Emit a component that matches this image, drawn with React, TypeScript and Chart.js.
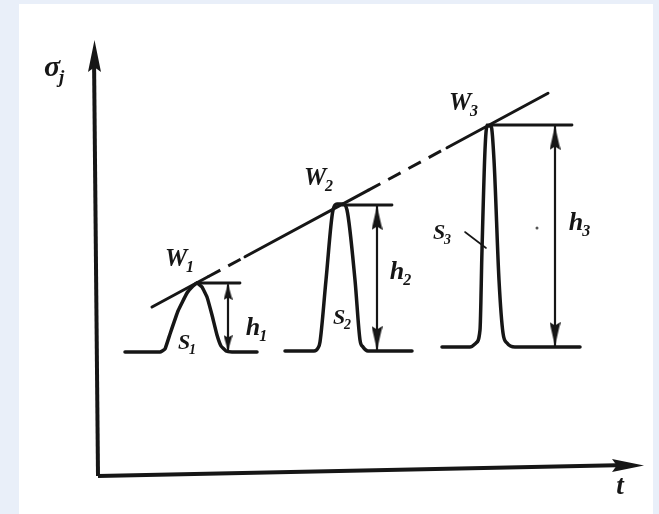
import React, { useEffect, useRef } from "react";
import { Chart, registerables } from "chart.js";
Chart.register(...registerables);

// ---- data (t, σ) in diagram units ----
const axisXT = [0, 53.0];
const axisXS = [0, 1.1];
const axisYT = [0, -0.4];
const axisYS = [0, 42.0];

const peak1T = [2.7, 6.2, 6.7, 7.2, 8.0, 8.9, 9.5, 9.9, 10.4, 10.9, 11.4, 11.9, 12.3, 12.8, 13.4, 15.9];
const peak1S = [12.4, 12.4, 12.7, 14.2, 16.5, 18.3, 19.0, 19.3, 18.9, 17.9, 16.1, 14.1, 13.0, 12.5, 12.4, 12.4];
const peak2T = [18.7, 21.6, 22.0, 22.2, 22.8, 23.5, 23.9, 24.5, 24.9, 25.7, 26.2, 26.5, 27.0, 31.4];
const peak2S = [12.5, 12.5, 12.8, 13.4, 19.6, 26.6, 27.2, 27.2, 26.6, 19.6, 13.6, 12.9, 12.5, 12.5];
const peak3T = [34.4, 37.2, 37.8, 38.2, 38.4, 38.7, 38.9, 39.3, 39.6, 40.1, 40.5, 40.9, 41.7, 48.2];
const peak3S = [12.9, 12.9, 13.3, 14.6, 22.6, 32.6, 35.0, 35.0, 31.6, 19.6, 14.3, 13.3, 12.9, 12.9];

// tops of the peaks (horizontal reference lines)
const topT = [[9.9, 14.2], [24.4, 29.4], [38.9, 47.4]];
const topS = [19.3, 27.1, 35.1];

// height arrows h1..h3
const arrowT = [13.0, 27.9, 45.7];
const arrowTop = [19.1, 27.0, 35.0];
const arrowBottom = [12.5, 12.6, 13.0];
const headTopS = [18.4, 25.8, 33.8];
const headBottomS = [13.3, 13.8, 14.2];

// W line through the peak tops: solid / dashed segments
const wSolidT = [[5.4, 11.0], [14.7, 27.0], [34.9, 45.0]];
const wSolidS = [[16.9, 19.92], [21.92, 28.56], [32.83, 38.28]];
const wDashT = [[11.0, 14.7], [27.0, 34.9]];
const wDashS = [[19.92, 21.92], [28.56, 32.83]];

// S3 pointer tick and stray dot of the scan
const tickT = [36.7, 38.8];
const tickS = [24.4, 22.8];
const dotT = [43.9];
const dotS = [24.8];

// labels
const labelMain = ["σ", "W", "W", "W", "S", "S", "S", "h", "h", "h", "t"];
const labelSub = ["j", "1", "2", "3", "1", "2", "3", "1", "2", "3", ""];
const labelT = [-4.6, 7.8, 21.7, 36.2, 8.6, 24.1, 34.1, 15.5, 29.9, 47.8, 52.2];
const labelS = [40.8, 21.6, 29.7, 37.2, 13.3, 15.8, 24.3, 14.8, 20.4, 25.3, -1.1];

// ---- styles ----
const INK = "#161616";
const LABEL_SIZES = [30, 25, 25, 25, 22, 22, 22, 26, 26, 26, 27];
const FONT = '"Liberation Serif", "DejaVu Serif", serif';

function head(w: number, h: number) {
  const c = document.createElement("canvas");
  c.width = w;
  c.height = h;
  const g = c.getContext("2d")!;
  g.fillStyle = INK;
  g.beginPath();
  g.moveTo(w / 2, 0);
  g.lineTo(w, h);
  g.lineTo(w / 2, h * 0.85);
  g.lineTo(0, h);
  g.closePath();
  g.fill();
  return c;
}

const pts = (ts: number[], ss: number[]) => ts.map((t, i) => ({ x: t, y: ss[i] }));

function line(ts: number[], ss: number[], width: number, extra: any = {}) {
  return {
    type: "line",
    data: pts(ts, ss),
    borderColor: INK,
    backgroundColor: INK,
    borderWidth: width,
    pointRadius: 0,
    fill: false,
    borderCapStyle: "round",
    borderJoinStyle: "round",
    ...extra,
  };
}

const bgPlugin = {
  id: "paper",
  beforeDraw(chart: any) {
    const { ctx, width, height } = chart;
    ctx.save();
    ctx.fillStyle = "#e9eff9";
    ctx.fillRect(0, 0, width, height);
    ctx.fillStyle = "#ffffff";
    ctx.fillRect(19, 4, 634, height - 4);
    ctx.restore();
  },
};

const labelPlugin = {
  id: "labels",
  afterDatasetsDraw(chart: any) {
    const { ctx } = chart;
    const x = chart.scales.x;
    const y = chart.scales.y;
    ctx.save();
    ctx.fillStyle = INK;
    ctx.textBaseline = "middle";
    labelMain.forEach((m, i) => {
      const px = x.getPixelForValue(labelT[i]);
      const py = y.getPixelForValue(labelS[i]);
      const size = LABEL_SIZES[i];
      ctx.font = `italic bold ${size}px ${FONT}`;
      ctx.textAlign = "center";
      ctx.fillText(m, px, py);
      const w = ctx.measureText(m).width;
      if (labelSub[i]) {
        ctx.font = `italic bold ${Math.round(size * 0.62)}px ${FONT}`;
        ctx.textAlign = "left";
        ctx.fillText(labelSub[i], px + w / 2 - 1, py + size * 0.33);
      }
    });
    ctx.restore();
  },
};

export default function App() {
  const ref = useRef<HTMLCanvasElement>(null);
  useEffect(() => {
    const axisHead = head(13, 32);
    const smallHead = head(9, 16);
    const bigHead = head(11, 24);
    const datasets: any[] = [];

    datasets.push(line(axisXT, axisXS, 4, { borderCapStyle: "butt" }));
    datasets.push(line(axisYT, axisYS, 4, { borderCapStyle: "butt" }));
    datasets.push({
      type: "line",
      showLine: false,
      data: [{ x: -0.35, y: 42.0 }, { x: 53.0, y: 1.05 }],
      pointStyle: axisHead,
      pointRotation: [0, 90],
      pointRadius: 10,
    });

    datasets.push(line(peak1T, peak1S, 3.5, { tension: 0.1 }));
    datasets.push(line(peak2T, peak2S, 3.5, { cubicInterpolationMode: "monotone" }));
    datasets.push(line(peak3T, peak3S, 3.5, { cubicInterpolationMode: "monotone" }));
    topT.forEach((t, i) => datasets.push(line(t, [topS[i], topS[i]], 2.8)));
    arrowT.forEach((t, i) =>
      datasets.push(line([t, t], [arrowTop[i], arrowBottom[i]], 2.2))
    );
    datasets.push({
      type: "line",
      showLine: false,
      data: [
        ...arrowT.map((t, i) => ({ x: t, y: headTopS[i] })),
        ...arrowT.map((t, i) => ({ x: t, y: headBottomS[i] })),
      ],
      pointStyle: [smallHead, bigHead, bigHead, smallHead, bigHead, bigHead],
      pointRotation: [0, 0, 0, 180, 180, 180],
      pointRadius: 8,
    });
    wSolidT.forEach((t, i) => datasets.push(line(t, wSolidS[i], 3)));
    wDashT.forEach((t, i) =>
      datasets.push(line(t, wDashS[i], 3, { borderDash: [14, 9], borderCapStyle: "butt" }))
    );
    datasets.push(line(tickT, tickS, 1.6));
    datasets.push({
      type: "line",
      showLine: false,
      data: pts(dotT, dotS),
      pointRadius: 1.5,
      pointBackgroundColor: "#555",
      pointBorderWidth: 0,
    });

    const chart = new Chart(ref.current!, {
      type: "line",
      data: { datasets },
      options: {
        animation: false,
        responsive: false,
        events: [],
        layout: { padding: 0, autoPadding: false },
        plugins: { legend: { display: false }, tooltip: { enabled: false } },
        scales: {
          x: { type: "linear", min: -9.8, max: 56.1, display: false },
          y: { type: "linear", min: -3.8, max: 47.6, display: false },
        },
      },
      plugins: [bgPlugin, labelPlugin],
    } as any);
    return () => chart.destroy();
  }, []);
  return (
    <div style={{ position: "fixed", left: 0, top: 0, width: 659, height: 514 }}>
      <canvas ref={ref} width={659} height={514} style={{ display: "block" }} />
    </div>
  );
}
